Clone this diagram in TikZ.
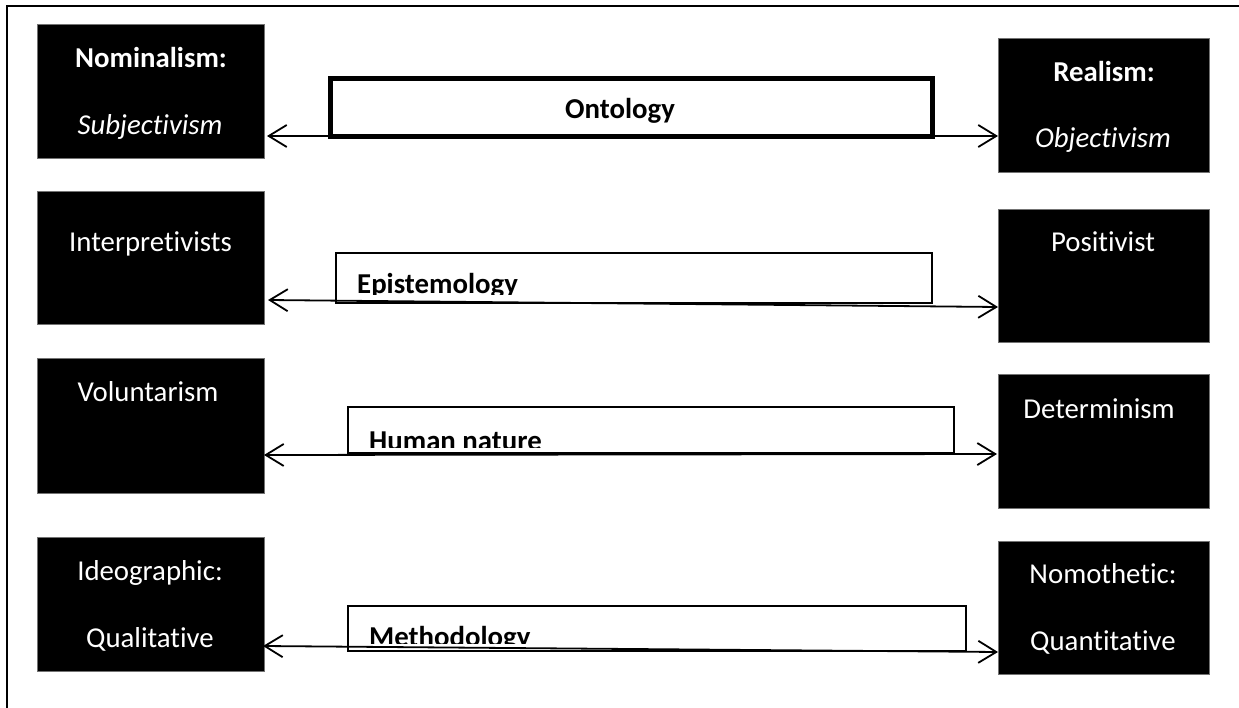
\documentclass[tikz,border=0pt]{standalone}
\usepackage{fontspec}
\setmainfont{Carlito}[Ligatures=NoCommon]
\usetikzlibrary{arrows.meta,calc}
\begin{document}
\begin{tikzpicture}[x=1pt,y=-1pt,
  blk/.style={rectangle,fill=black,draw=black!55,line width=0.8pt,inner sep=0pt,outer sep=0pt},
  mid/.style={rectangle,fill=white,draw=black,line width=1.4pt,inner sep=0pt,outer sep=0pt},
  wt/.style={text=white,font=\fontsize{28.8}{34}\selectfont,anchor=base,inner sep=0pt},
  bt/.style={text=black,font=\fontsize{28.8}{34}\selectfont\bfseries,inner sep=0pt},
  conn/.style={line width=1.8pt,{Straight Barb[length=18pt,width=22pt]}-{Straight Barb[length=18pt,width=22pt]}}
]
\useasboundingbox (0,0) rectangle (1239,708);
\fill[white] (0,0) rectangle (1239,708);
% outer frame (only top and left visible)
\draw[line width=2pt] (7,708) -- (7,6) -- (1239,6);

% left boxes
\node[blk,minimum width=227pt,minimum height=134pt] (nom) at (150.5,91) {};
\node[blk,minimum width=227pt,minimum height=133pt] (interp) at (150.5,257.5) {};
\node[blk,minimum width=227pt,minimum height=135pt] (vol) at (150.5,425.5) {};
\node[blk,minimum width=227pt,minimum height=134pt] (ideo) at (150.5,604) {};
% right boxes
\node[blk,minimum width=211pt,minimum height=134pt] (real) at (1103.5,105) {};
\node[blk,minimum width=211pt,minimum height=133pt] (pos) at (1103.5,275.5) {};
\node[blk,minimum width=211pt,minimum height=134pt] (det) at (1103.5,441) {};
\node[blk,minimum width=211pt,minimum height=133pt] (nomo) at (1103.5,607.5) {};

% white texts
\node[wt] (t1) at (151,68) {\textbf{Nominalism:}};
\node[wt] (t2) at (150,135) {\textit{Subjectivism}};
\node[wt] (t3) at (150.5,252) {Interpretivists};
\node[wt] (t4) at (148,401) {Voluntarism};
\node[wt] (t5) at (150,580) {Ideographic:};
\node[wt] (t6) at (150,647) {Qualitative};
\node[wt] (t7) at (1104,82) {\textbf{Realism:}};
\node[wt] (t8) at (1103,148) {\textit{Objectivism}};
\node[wt] (t9) at (1103,252) {Positivist};
\node[wt] (t10) at (1099,418) {Determinism};
\node[wt] (t11) at (1103,583) {Nomothetic:};
\node[wt] (t12) at (1103,650) {Quantitative};

% middle boxes
\node[mid,line width=5pt,minimum width=602pt,minimum height=58pt] (onto) at (631.5,107.5) {};
\node[mid,minimum width=596pt,minimum height=50pt] (epi) at (634,278) {};
\node[mid,minimum width=606pt,minimum height=46pt] (hum) at (651,430) {};
\node[mid,minimum width=618pt,minimum height=45pt] (meth) at (657,628.5) {};

% middle texts
\node[bt,anchor=base] (ot) at (620,119) {Ontology};
\begin{scope}
  \clip (336,253) rectangle (932,295);
  \node[bt,anchor=base west] (et) at (357,294) {Epistemology};
\end{scope}
\begin{scope}
  \clip (348,407) rectangle (954,447);
  \node[bt,anchor=base west] (ht) at (369,450) {Human nature};
\end{scope}
\begin{scope}
  \clip (348,606) rectangle (966,643);
  \node[bt,anchor=base west] (mt) at (369,646) {Methodology};
\end{scope}

% connectors
\draw[conn] ($(nom.east)+(3,45)$) -- ($(real.west)+(0,31)$);
\draw[conn] ($(interp.east)+(4,42.5)$) -- ($(pos.west)+(0,31.5)$);
\draw[conn] ($(vol.east)+(0,29.5)$) -- ($(det.west)+(-1,13)$);
\draw[conn] ($(ideo.east)+(-1,42)$) -- ($(nomo.west)+(0,44.5)$);
\end{tikzpicture}
\end{document}
